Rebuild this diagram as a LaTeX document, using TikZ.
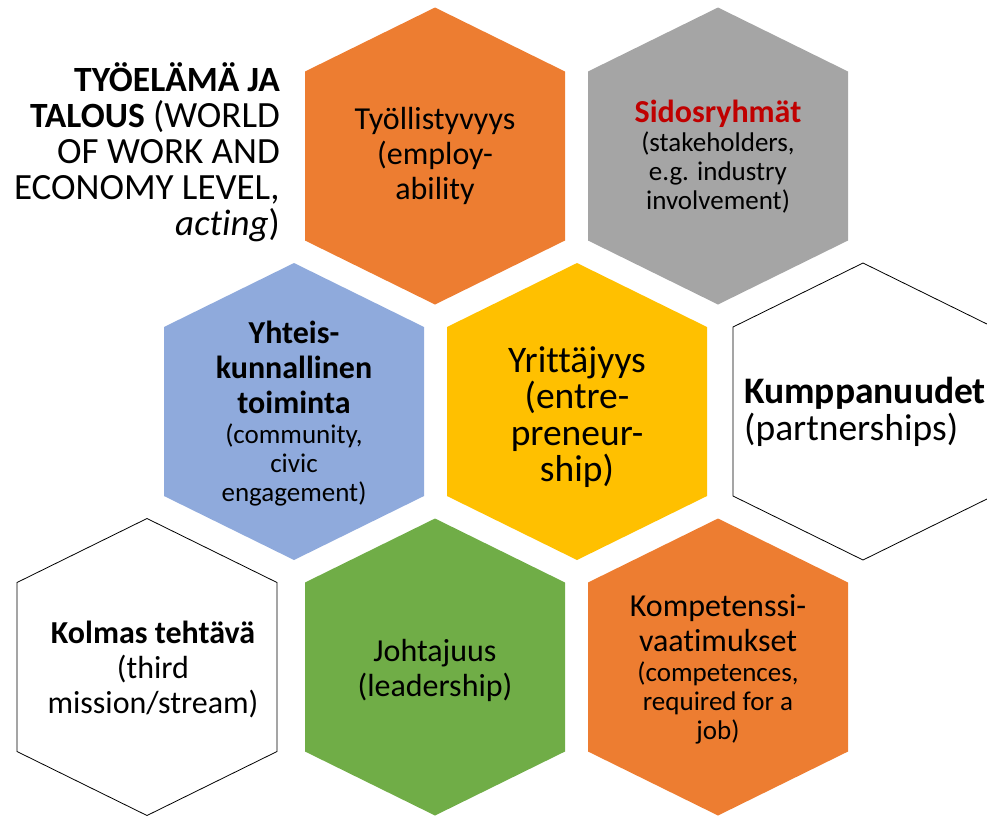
\documentclass[tikz,border=0pt]{standalone}
\usepackage{fontspec}
\setmainfont{Carlito}[Ligatures={NoCommon,NoRequired,NoContextual}]
\definecolor{hexorange}{HTML}{ED7D31}
\definecolor{hexgray}{HTML}{A5A5A5}
\definecolor{hexblue}{HTML}{8FAADC}
\definecolor{hexyellow}{HTML}{FFC000}
\definecolor{hexgreen}{HTML}{70AD47}
\definecolor{titlered}{HTML}{C00000}
\newcommand{\bigf}{\fontsize{32}{35}\selectfont}
\newcommand{\smallf}{\fontsize{27}{29}\selectfont}
\newcommand{\hugef}{\fontsize{37.5}{36.5}\selectfont}
\newcommand{\titlef}{\fontsize{37}{36}\selectfont}
\newcommand{\titleb}[1]{{\fontsize{35.5}{36}\selectfont\bfseries #1}}
\begin{document}
\begin{tikzpicture}[x=1pt,y=-1pt,
  hexa/.pic={\path[pic actions] (0,-148.5) -- (130,-84.5) -- (130,84.5) -- (0,148.5) -- (-130,84.5) -- (-130,-84.5) -- cycle;},
  filled/.style={draw=none},
  outlined/.style={draw=black,line width=0.8pt,fill=white},
  txt/.style={align=center,inner sep=0pt,text=black}]
\useasboundingbox (0,0) rectangle (987,815);
\clip (0,0) rectangle (987,815);
% row 1
\pic[fill=hexorange,filled] at (435,156) {hexa};
\pic[fill=hexgray,filled] at (718,156) {hexa};
% row 2
\pic[fill=hexblue,filled] at (294,411.5) {hexa};
\pic[fill=hexyellow,filled] at (577,411.5) {hexa};
\pic[outlined] at (863,411.5) {hexa};
% row 3
\pic[outlined] at (147,667) {hexa};
\pic[fill=hexgreen,filled] at (435,667) {hexa};
\pic[fill=hexorange,filled] at (718,667) {hexa};
% texts
\node[txt,align=right,font=\titlef,anchor=north east] (title) at (280,62) {\titleb{TYÖELÄMÄ JA}\\\titleb{TALOUS} (WORLD\\OF WORK AND\\ECONOMY LEVEL,\\\textit{acting})};
\node[txt,font=\bigf] (employ) at (435,156) {Työllistyvyys\\(employ-\\ability};
\node[txt,font=\smallf] (stake) at (718,157) {\bigf\textbf{\textcolor{titlered}{Sidosryhmät}}\\(stakeholders,\\e.g. industry\\involvement)};
\node[txt,font=\bigf] (community) at (294,414) {\textbf{Yhteis-}\\\textbf{kunnallinen}\\\textbf{toiminta}\\[-5pt]\smallf(community,\\[-6pt]\smallf civic\\[-6pt]\smallf engagement)};
\node[txt,font=\hugef] (entre) at (577,417) {Yrittäjyys\\(entre-\\preneur-\\ship)};
\node[txt,align=left,anchor=west,font=\hugef] (partner) at (744,412) {\textbf{Kumppanuudet}\\(partnerships)};
\node[txt,font=\bigf] (third) at (153,669) {\textbf{Kolmas tehtävä}\\(third\\mission/stream)};
\node[txt,font=\bigf] (leader) at (435,670) {Johtajuus\\(leadership)};
\node[txt,font=\bigf] (compet) at (718,669) {Kompetenssi-\\vaatimukset\\[-5pt]\smallf(competences,\\[-6pt]\smallf required for a\\[-6pt]\smallf job)};
\end{tikzpicture}
\end{document}
